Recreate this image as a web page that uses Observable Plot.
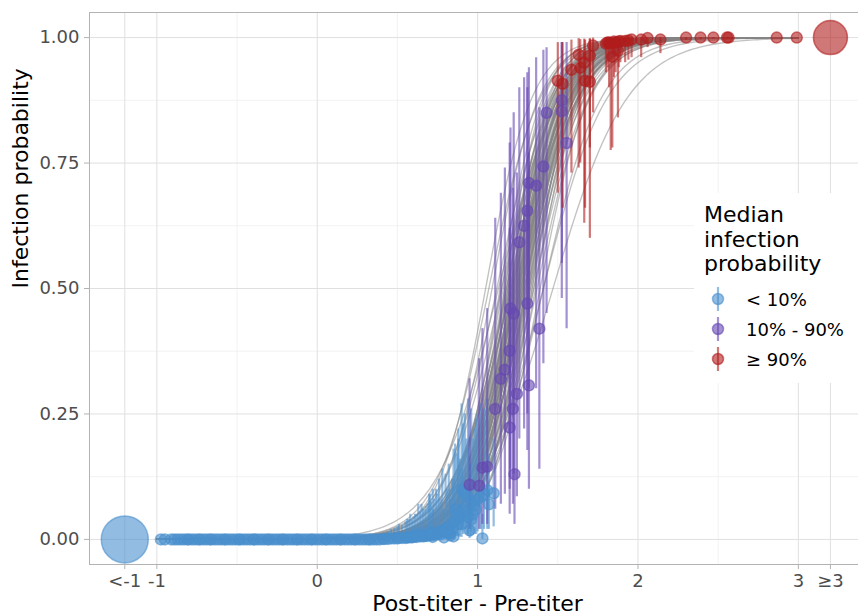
<!DOCTYPE html>
<html><head><meta charset="utf-8">
<script src="https://cdn.jsdelivr.net/npm/d3@7"></script>
<script src="https://cdn.jsdelivr.net/npm/@observablehq/plot@0.6"></script>
<style>
body{margin:0;background:#fff;font-family:"DejaVu Sans",sans-serif;}
#wrap{position:relative;width:858px;height:614px;overflow:hidden;}
</style></head><body><div id="wrap"></div>
<script>
// ---- categories ----
const groups = ["< 10%", "10% - 90%", "≥ 90%"];
const groupColors = ["#4a8fcd", "#6647b3", "#b01c1c"];

// ---- axis breaks / labels ----
const xBreaks = [-1.2, -1, 0, 1, 2, 3, 3.2];
const xLabels = ["<-1", "-1", "0", "1", "2", "3", "≥3"];
const xMinor = [-0.5, 0.5, 1.5, 2.5];
const yBreaks = [0, 0.25, 0.5, 0.75, 1];
const yMinor = [0.125, 0.375, 0.625, 0.875];

// ---- posterior draws of the logistic dose-response curve (midpoint, slope) ----
const drawMid = [1.09,1.12,1.14,1.15,1.16,1.17,1.18,1.18,1.19,1.19,1.20,1.20,1.21,1.21,1.21,1.22,1.22,1.22,1.23,1.23,1.23,1.24,1.24,1.24,1.25,1.25,1.25,1.26,1.26,1.26,1.27,1.27,1.27,1.28,1.28,1.28,1.29,1.29,1.30,1.30,1.31,1.31,1.32,1.32,1.33,1.34,1.35,1.36,1.37,1.39,1.13,1.07,1.05,1.41,1.41,1.47,
  1.17,1.19,1.20,1.21,1.22,1.22,1.23,1.23,1.24,1.24,1.25,1.25,1.26,1.26,1.27,1.27,1.28,1.28,1.29,1.29,1.30,1.30,1.31,1.32,1.33,1.34,1.35,1.21,1.18,1.15];
const drawSlope = [6.8,6.0,7.5,5.6,6.5,8.1,6.2,7.2,5.7,7.8,6.6,6.1,7.3,5.5,6.9,6.4,8.3,6.5,5.9,7.0,7.7,6.2,6.8,5.7,7.4,6.5,6.0,6.9,7.9,6.4,7.2,5.6,6.6,6.1,7.5,6.8,5.9,7.0,6.5,8.2,6.2,7.3,6.6,5.7,6.9,7.7,6.4,7.0,6.0,6.5,5.1,6.2,6.9,5.5,5.0,4.3,
  6.7,7.1,6.3,7.6,6.0,7.2,6.6,8.0,6.3,7.0,5.8,7.5,6.7,6.2,7.1,6.0,6.8,7.8,6.3,5.9,7.2,6.6,6.1,7.4,6.3,6.8,5.8,5.4,6.4,7.0];

// ---- observations: median infection probability with interval ----
const flatX = [-0.975,-0.95,-0.91,-0.89,-0.87,-0.85,-0.83,-0.81,-0.8,-0.78,-0.76,-0.74,-0.73,-0.71,-0.69,-0.67,-0.66,-0.64,-0.62,-0.6,-0.58,-0.57,-0.55,-0.53,-0.51,-0.49,-0.48,-0.46,-0.44,-0.42,-0.4,-0.39,-0.37,-0.35,-0.33,-0.31,-0.3,-0.28,-0.26,-0.24,-0.22,-0.21,-0.19,-0.17,-0.15,-0.13,-0.12,-0.1,-0.08,-0.06,-0.04,-0.03,-0.01,0.01,0.03,0.05,0.06,0.08,0.1,0.12,0.14,0.15,0.17,0.19,0.21,0.23,0.24,0.26,0.28,0.3,0.32,0.33,0.35,0.37,0.39];
const flatY = [0,0,0,0,0,0,0,0,0,0,0,0,0,0,0,0,0,0,0,0,0,0,0,0,0,0,0,0,0,0,0,0,0,0,0,0,0,0,0,0,0,0,0,0,0,0,0,0,0,0,0,0,0,0,0,0,0,0,0,0,0,0,0,0,0,0,0,0,0,0,0,0,0,0,0];

const blueX = [0.41,0.42,0.44,0.46,0.48,0.5,0.51,0.53,0.55,0.57,0.59,0.6,0.62,0.63,0.64,0.66,0.68,0.69,0.7,0.71,0.72,0.73,0.74,0.75,0.77,0.79,0.81,0.83,0.84,0.85,0.86,0.88,0.89,0.9,0.92,0.94,0.95,0.96,0.98,1.03,1.06,1.07,1.10,
  0.56,0.58,0.61,0.65,0.67,0.7,0.72,0.76,0.78,0.8,0.82,0.83,0.85,0.87,0.88,0.9,0.91,0.93,0.94,0.96,0.97,0.99,1.0,1.02,1.04];
const blueY = [0.001,0.001,0.001,0.002,0.002,0.002,0.003,0.003,0.003,0.004,0.004,0.005,0.005,0.012,0.006,0.006,0.007,0.008,0.015,0.008,0.005,0.009,0.012,0.01,0.01,0.004,0.015,0.008,0.02,0.006,0.06,0.03,0.045,0.1,0.092,0.084,0.018,0.04,0.068,0.002,0.098,0.07,0.092,
  0.004,0.005,0.006,0.008,0.007,0.01,0.012,0.015,0.018,0.02,0.025,0.012,0.035,0.04,0.05,0.03,0.06,0.055,0.045,0.075,0.05,0.06,0.08,0.085,0.09];
const blueLo = [0,0,0,0,0,0,0,0,0,0,0,0,0,0,0,0,0,0,0,0,0,0,0,0,0,0,0,0,0,0,0.01,0.005,0.005,0.02,0.02,0.01,0.002,0.005,0.01,0,0.02,0.02,0.025,
  0,0,0,0,0,0.001,0.001,0.002,0.002,0.003,0.004,0.002,0.005,0.006,0.008,0.004,0.01,0.01,0.006,0.015,0.008,0.01,0.015,0.02,0.02];
const blueHi = [0.01,0.012,0.015,0.02,0.022,0.025,0.03,0.028,0.035,0.04,0.038,0.045,0.05,0.07,0.055,0.06,0.065,0.07,0.09,0.075,0.06,0.08,0.1,0.09,0.08,0.06,0.1,0.08,0.12,0.12,0.19,0.2,0.16,0.27,0.25,0.28,0.1,0.15,0.22,0.05,0.28,0.17,0.2,
  0.04,0.05,0.05,0.07,0.06,0.09,0.1,0.12,0.14,0.13,0.15,0.1,0.18,0.17,0.22,0.14,0.23,0.2,0.18,0.26,0.2,0.24,0.25,0.27,0.26];

const purpleX = [0.95,1.01,1.03,1.06,1.11,1.145,1.17,1.20,1.20,1.205,1.225,1.22,1.23,1.245,1.26,1.29,1.31,1.31,1.32,1.32,1.365,1.385,1.41,1.43,1.525,1.525,1.555];
const purpleY = [0.109,0.107,0.143,0.145,0.26,0.32,0.338,0.223,0.376,0.46,0.45,0.26,0.13,0.29,0.592,0.625,0.655,0.47,0.307,0.71,0.705,0.42,0.743,0.85,0.875,0.853,0.79];
const purpleLo = [0.02,0.02,0.03,0.03,0.06,0.07,0.09,0.05,0.1,0.14,0.13,0.07,0.03,0.085,0.2,0.22,0.25,0.177,0.1,0.3,0.3,0.14,0.35,0.45,0.55,0.48,0.42];
const purpleHi = [0.32,0.36,0.42,0.46,0.64,0.69,0.74,0.62,0.79,0.82,0.85,0.7,0.44,0.73,0.9,0.92,0.93,0.9,0.77,0.94,0.96,0.86,0.975,0.98,0.99,0.99,0.99];

const redX = [1.50,1.53,1.585,1.63,1.64,1.665,1.67,1.70,1.70,1.72,1.80,1.81,1.82,1.83,1.84,1.85,1.86,1.875,1.88,1.89,1.92,1.94,1.96,2.02,2.06,2.14,2.30,2.39,2.47,2.555,2.565,2.865,2.99];
const redY = [0.914,0.908,0.936,0.966,0.94,0.95,0.914,0.912,0.964,0.984,0.988,0.99,0.99,0.988,0.962,0.992,0.99,0.974,0.992,0.993,0.993,0.994,0.996,0.996,0.999,0.996,1,1,1,1,1,1,1];
const redLo = [0.69,0.66,0.73,0.74,0.75,0.63,0.66,0.6,0.78,0.85,0.93,0.94,0.9,0.775,0.78,0.92,0.93,0.84,0.94,0.95,0.95,0.955,0.96,0.96,0.98,0.968,0.995,0.996,0.997,0.998,0.998,1,1];
const redHi = [0.99,0.99,0.995,0.998,0.996,0.997,0.995,0.996,0.998,0.999,1,1,1,1,0.999,1,1,0.999,1,1,1,1,1,1,1,1,1,1,1,1,1,1,1];

// censored groups (below -1 and at/above 3): position, median, number of observations
const censX = [-1.2, 3.2];
const censY = [0, 1];
const censN = [130, 68];
const censGroup = ["< 10%", "≥ 90%"];

// ---- build tables ----
const xGrid = d3.range(-1, 3.0001, 0.02);
const curves = drawMid.flatMap((m, i) => xGrid.map(x => ({draw: i, x, y: 1 / (1 + Math.exp(-drawSlope[i] * (x - m)))})));

const obs = [
  ...blueX.map((x, i) => ({x, y: blueY[i], lo: blueLo[i], hi: blueHi[i], g: groups[0]})),
  ...purpleX.map((x, i) => ({x, y: purpleY[i], lo: purpleLo[i], hi: purpleHi[i], g: groups[1]})),
  ...redX.map((x, i) => ({x, y: redY[i], lo: redLo[i], hi: redHi[i], g: groups[2]}))
];
const flat = flatX.map((x, i) => ({x, y: flatY[i], g: groups[0]}));
const cens = censX.map((x, i) => ({x, y: censY[i], n: censN[i], g: censGroup[i]}));
const labelMap = new Map(xBreaks.map((b, i) => [b, xLabels[i]]));

const plot = Plot.plot({
  width: 858, height: 614,
  marginLeft: 89, marginRight: 0, marginTop: 12, marginBottom: 50,
  style: {fontFamily: "'DejaVu Sans', sans-serif", background: "white"},
  x: {domain: [-1.42, 3.375]},
  y: {domain: [-0.05, 1.05]},
  r: {type: "sqrt", domain: [0, 130], range: [0, 23.5]},
  color: {domain: groups, range: groupColors},
  marks: [
    Plot.ruleX(xMinor, {stroke: "#efefef", strokeWidth: 0.8}),
    Plot.ruleY(yMinor, {stroke: "#efefef", strokeWidth: 0.8}),
    Plot.ruleX(xBreaks, {stroke: "#e0e0e0", strokeWidth: 1}),
    Plot.ruleY(yBreaks, {stroke: "#e0e0e0", strokeWidth: 1}),
    Plot.ruleX([-1.42], {stroke: "#b3b3b3", strokeWidth: 1}),
    Plot.ruleY([-0.05, 1.05], {stroke: "#b3b3b3", strokeWidth: 1}),
    Plot.line(curves, {x: "x", y: "y", z: "draw", stroke: "#858585", strokeOpacity: 0.5, strokeWidth: 1.35}),
    Plot.ruleX(obs, {x: "x", y1: "lo", y2: "hi", stroke: "g", strokeOpacity: 0.6, strokeWidth: 2.2}),
    Plot.dot(flat, {x: "x", y: "y", r: 5.5, fill: "g", fillOpacity: 0.6, stroke: "g", strokeOpacity: 0.6, strokeWidth: 1.5}),
    Plot.dot(obs, {x: "x", y: "y", r: 5.5, fill: "g", fillOpacity: 0.6, stroke: "g", strokeOpacity: 0.6, strokeWidth: 1.5}),
    Plot.dot(cens, {x: "x", y: "y", r: "n", fill: "g", fillOpacity: 0.6, stroke: "g", strokeOpacity: 0.6, strokeWidth: 1.5}),
    Plot.axisY({ticks: yBreaks, tickFormat: d => d.toFixed(2), tickSize: 5, tickPadding: 5, fontSize: 18, stroke: "#b3b3b3", fill: "#4d4d4d", label: null}),
    Plot.axisX({ticks: xBreaks, tickFormat: d => labelMap.get(d), tickSize: 5, tickPadding: 5, fontSize: 18, stroke: "#b3b3b3", fill: "#4d4d4d", label: null}),
    Plot.text(["Post-titer - Pre-titer"], {frameAnchor: "bottom", dx: 3.5, dy: 46, fontSize: 22, fill: "black"}),
    Plot.text(["Infection probability"], {frameAnchor: "left", dx: -69, rotate: -90, fontSize: 22, fill: "black"})
  ]
});
document.getElementById("wrap").appendChild(plot);

// ---- legend (inside the panel, right side) ----
const ns = "http://www.w3.org/2000/svg";
const leg = document.createElementNS(ns, "svg");
leg.setAttribute("width", 170);
leg.setAttribute("height", 190);
leg.style.position = "absolute";
leg.style.left = "694px";
leg.style.top = "193px";
let html = `<rect x="0" y="0" width="170" height="190" fill="white"/>`;
["Median", "infection", "probability"].forEach((t, i) => {
  html += `<text x="10" y="${29 + i * 24.5}" font-size="22" font-family="DejaVu Sans, sans-serif" fill="black">${t}</text>`;
});
groups.forEach((g, i) => {
  const cy = 106 + i * 30, c = groupColors[i];
  html += `<line x1="24" x2="24" y1="${cy - 12}" y2="${cy + 12}" stroke="${c}" stroke-opacity="0.6" stroke-width="2.2"/>`;
  html += `<circle cx="24" cy="${cy}" r="5.5" fill="${c}" fill-opacity="0.6" stroke="${c}" stroke-opacity="0.6" stroke-width="1.5"/>`;
  html += `<text x="52" y="${cy + 7}" font-size="18" font-family="DejaVu Sans, sans-serif" fill="black">${g.replace("<", "&lt;")}</text>`;
});
leg.innerHTML = html;
document.getElementById("wrap").appendChild(leg);
</script></body></html>
